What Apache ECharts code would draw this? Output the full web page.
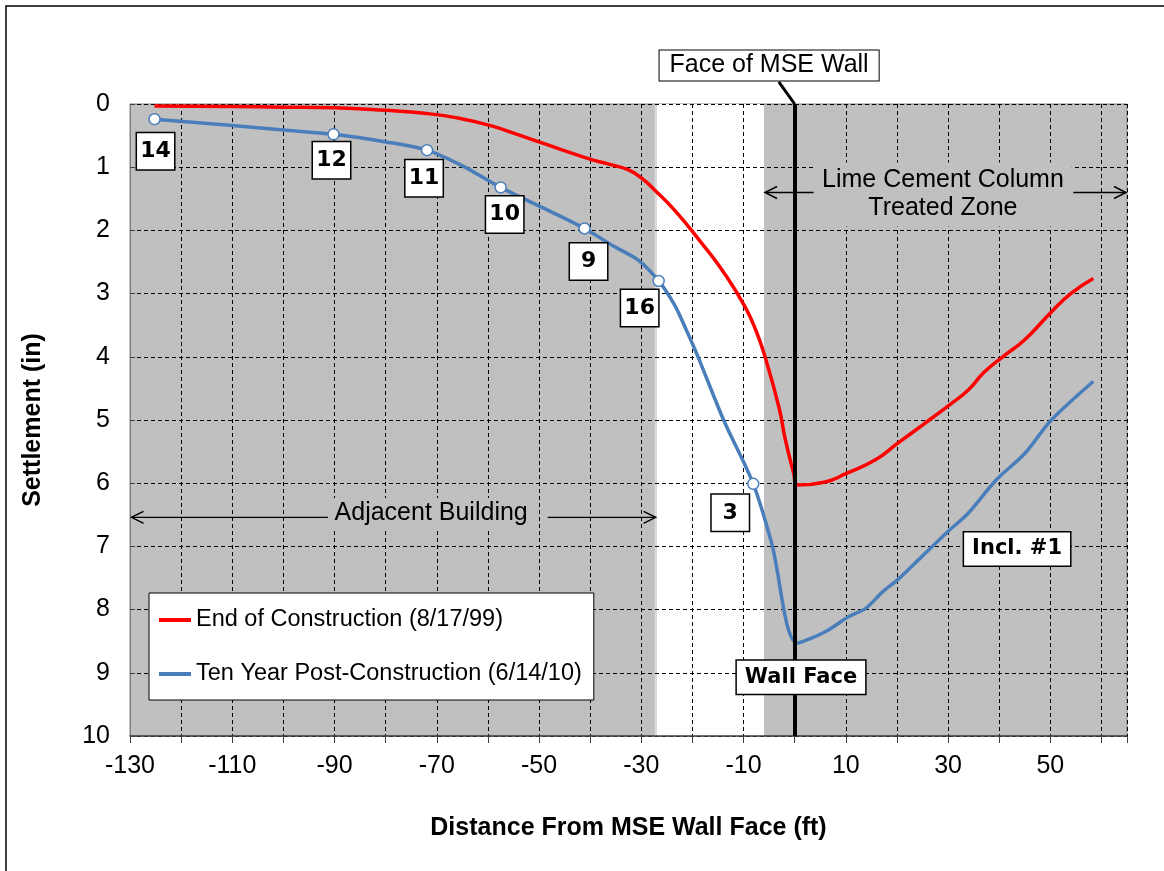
<!DOCTYPE html>
<html>
<head>
<meta charset="utf-8">
<script src="https://cdn.jsdelivr.net/npm/echarts@6/dist/echarts.min.js"></script>
<style>
  html, body { margin: 0; padding: 0; background: #fff; }
  #chart { width: 1164px; height: 871px; }
</style>
</head>
<body>
<div id="chart"></div>
<script>
// settlement profiles, distance (ft) vs settlement (in)
const endX = [-125.2, -110, -100, -90, -80, -72, -66, -60, -55, -50, -40.5, -36, -32.6, -30, -27.4, -23.5, -18.2, -14, -9.7, -7.5, -5.8, -3.1, -1.8, -0.2, 0.5, 6, 10, 15.8, 20.1, 25, 30.3, 33.9, 37, 40.7, 45, 50.2, 54, 58.4];
const endY = [0.03, 0.04, 0.05, 0.06, 0.1, 0.15, 0.22, 0.33, 0.46, 0.6, 0.86, 0.96, 1.04, 1.17, 1.36, 1.68, 2.2, 2.65, 3.21, 3.6, 4.0, 4.79, 5.32, 5.84, 6.03, 5.98, 5.85, 5.63, 5.37, 5.08, 4.76, 4.53, 4.25, 4.0, 3.73, 3.29, 3.0, 2.76];

const tenX = [-125.2, -110, -100, -90.2, -80, -71.9, -64.7, -57.5, -48.3, -41.1, -35.2, -30.6, -26.6, -23.5, -21.5, -18.9, -13.9, -8.1, -4.5, 0.5, 6, 10.6, 13.9, 17.2, 20.1, 25, 30.3, 33.9, 39.4, 45, 50.2, 58.4];
const tenY = [0.24, 0.34, 0.41, 0.48, 0.6, 0.73, 0.99, 1.32, 1.68, 1.97, 2.26, 2.47, 2.8, 3.18, 3.52, 4.0, 5.0, 6.01, 6.95, 8.53, 8.35, 8.11, 7.98, 7.72, 7.53, 7.15, 6.74, 6.48, 5.95, 5.53, 5.0, 4.39];

// numbered survey points on the ten-year curve
const stationIds = ['14', '12', '11', '10', '9', '16', '3'];
const stationX = [-125.2, -90.2, -71.9, -57.5, -41.1, -26.6, -8.1];
const stationY = [0.24, 0.48, 0.73, 1.32, 1.97, 2.8, 6.01];

const seriesNames = ['End of Construction (8/17/99)', 'Ten Year Post-Construction (6/14/10)'];

const RED = '#ff0000';
const BLUE = '#4a7ebb';
const FONT = '"Liberation Sans", Arial, sans-serif';
const BOLD = '"DejaVu Sans", Verdana, sans-serif';

// box offsets (px) of the point labels
const labelOffsets = [[1, 32], [-2, 26], [-3, 28], [4, 27], [4, 33], [-19, 27], [-23, 29]];

const chart = echarts.init(document.getElementById('chart'));

chart.setOption({
  animation: false,
  backgroundColor: '#fff',
  grid: {
    left: 130, top: 104, right: 37, bottom: 135,
    show: true, backgroundColor: '#c0c0c0', borderColor: '#808080', borderWidth: 1
  },
  legend: {
    data: seriesNames,
    orient: 'vertical',
    left: 149, top: 593,
    backgroundColor: '#fff',
    borderColor: '#000',
    borderWidth: 1,
    padding: [15, 12, 14, 10],
    itemGap: 30,
    icon: 'rect',
    itemWidth: 32,
    itemHeight: 4,
    textStyle: { fontSize: 23.5, fontFamily: FONT, color: '#000' }
  },
  xAxis: {
    type: 'value',
    min: -130, max: 65, interval: 10,
    z: 2,
    name: 'Distance From MSE Wall Face (ft)',
    nameLocation: 'middle',
    nameGap: 80,
    nameTextStyle: { fontSize: 25, fontWeight: 'bold', fontFamily: FONT, color: '#000' },
    axisLine: { onZero: false, lineStyle: { color: '#404040', width: 1.5 } },
    axisTick: { show: true, length: 7, lineStyle: { color: '#404040' } },
    axisLabel: {
      margin: 18, fontSize: 25, fontFamily: FONT, color: '#000',
      formatter: v => ((v + 130) % 20 === 0 ? String(v) : '')
    },
    splitLine: { show: true, lineStyle: { color: '#000', type: [4, 3], width: 1 } }
  },
  yAxis: {
    type: 'value',
    min: 0, max: 10, interval: 1,
    inverse: true,
    z: 2,
    name: 'Settlement (in)',
    nameLocation: 'middle',
    nameGap: 84,
    nameTextStyle: { fontSize: 25, fontWeight: 'bold', fontFamily: FONT, color: '#000' },
    axisLine: { onZero: false, lineStyle: { color: '#808080', width: 1 } },
    axisTick: { show: true, inside: true, length: 5, lineStyle: { color: '#404040' } },
    axisLabel: { margin: 20, fontSize: 25, fontFamily: FONT, color: '#000' },
    splitLine: { show: true, lineStyle: { color: '#000', type: [4, 3], width: 1 } }
  },
  series: [
    {
      name: seriesNames[0],
      type: 'line',
      z: 3,
      data: endX.map((x, i) => [x, endY[i]]),
      symbol: 'none',
      smooth: 0.5,
      color: RED,
      lineStyle: { color: RED, width: 3.5 },
      markArea: {
        silent: true,
        z: 1,
        data: [
          [{ xAxis: -27, itemStyle: { color: '#ffffff' } }, { xAxis: -6 }],
          [{ xAxis: -27.4, itemStyle: { color: '#dadada' } }, { xAxis: -27 }]
        ]
      },
      markLine: {
        silent: true,
        symbol: 'none',
        label: { show: false },
        lineStyle: { color: '#000', width: 4, type: 'solid' },
        data: [{ xAxis: 0 }]
      }
    },
    {
      name: seriesNames[1],
      type: 'line',
      z: 3,
      data: tenX.map((x, i) => [x, tenY[i]]),
      symbol: 'none',
      smooth: 0.3,
      color: BLUE,
      lineStyle: { color: BLUE, width: 3.5 }
    },
    {
      name: 'points',
      type: 'scatter',
      z: 4,
      symbol: 'circle',
      symbolSize: 11,
      itemStyle: { color: '#fff', borderColor: BLUE, borderWidth: 1.5, opacity: 1 },
      data: stationX.map((x, i) => ({
        value: [x, stationY[i]],
        label: {
          show: true,
          position: 'inside',
          offset: labelOffsets[i],
          formatter: stationIds[i],
          fontSize: 22,
          fontWeight: 'bold',
          fontFamily: BOLD,
          color: '#000',
          opacity: 1,
          backgroundColor: '#fff',
          borderColor: '#000',
          borderWidth: 1.5,
          padding: [5, 6],
          width: 25,
          height: 26,
          lineHeight: 26,
          align: 'center',
          verticalAlign: 'middle'
        }
      }))
    }
  ]
});

// annotations placed in data coordinates
const px = (x, y) => chart.convertToPixel({ gridIndex: 0 }, [x, y]);

function arrow(x1, x2, y) {
  const a = px(x1, y), b = px(x2, y);
  const dir = b[0] > a[0] ? 1 : -1;
  return [
    { type: 'line', z: 100, shape: { x1: a[0], y1: a[1], x2: b[0], y2: b[1] }, style: { stroke: '#000', lineWidth: 1.3 } },
    { type: 'polyline', z: 100, shape: { points: [[b[0] - dir * 12, b[1] - 6], [b[0], b[1]], [b[0] - dir * 12, b[1] + 6]] }, style: { stroke: '#000', lineWidth: 1.5, fill: null } }
  ];
}

function box(x, y, text, opts) {
  const p = px(x, y);
  return {
    type: 'text', z: 101, x: p[0], y: p[1],
    style: Object.assign({
      text: text, fill: '#000', align: 'center', verticalAlign: 'middle'
    }, opts)
  };
}

const lead0 = px(0, 0), lead1 = px(-3.1, -0.35);

chart.setOption({
  graphic: [
    { type: 'rect', z: 0, shape: { x: 6, y: 6, width: 1200, height: 900 }, style: { stroke: '#000', lineWidth: 1.5, fill: null } },
    { type: 'line', z: 100, shape: { x1: lead0[0], y1: lead0[1], x2: lead1[0], y2: lead1[1] }, style: { stroke: '#000', lineWidth: 3 } },
    box(-5.0, -0.61, 'Face of MSE Wall', { fontSize: 25, fontFamily: FONT, backgroundColor: '#fff', borderColor: '#000', borderWidth: 1, padding: [3, 10, 2, 10] }),
    ...arrow(3.7, -5.8, 1.4),
    ...arrow(54.5, 64.8, 1.4),
    box(29.0, 1.43, 'Lime Cement Column\nTreated Zone', { fontSize: 25, fontFamily: FONT, lineHeight: 28, backgroundColor: '#c0c0c0', padding: [4, 8] }),
    ...arrow(-91.3, -129.7, 6.54),
    ...arrow(-48.3, -27.2, 6.54),
    box(-71.1, 6.48, 'Adjacent Building', { fontSize: 25, fontFamily: FONT, backgroundColor: '#c0c0c0', padding: [3, 6] }),
    box(1.24, 9.07, 'Wall Face', { fontSize: 21, fontWeight: 'bold', fontFamily: BOLD, backgroundColor: '#fff', borderColor: '#000', borderWidth: 1.5, padding: [6, 8] }),
    box(43.5, 7.04, 'Incl. #1', { fontSize: 21, fontWeight: 'bold', fontFamily: BOLD, backgroundColor: '#fff', borderColor: '#000', borderWidth: 1.5, padding: [6, 8] })
  ]
});
</script>
</body>
</html>
